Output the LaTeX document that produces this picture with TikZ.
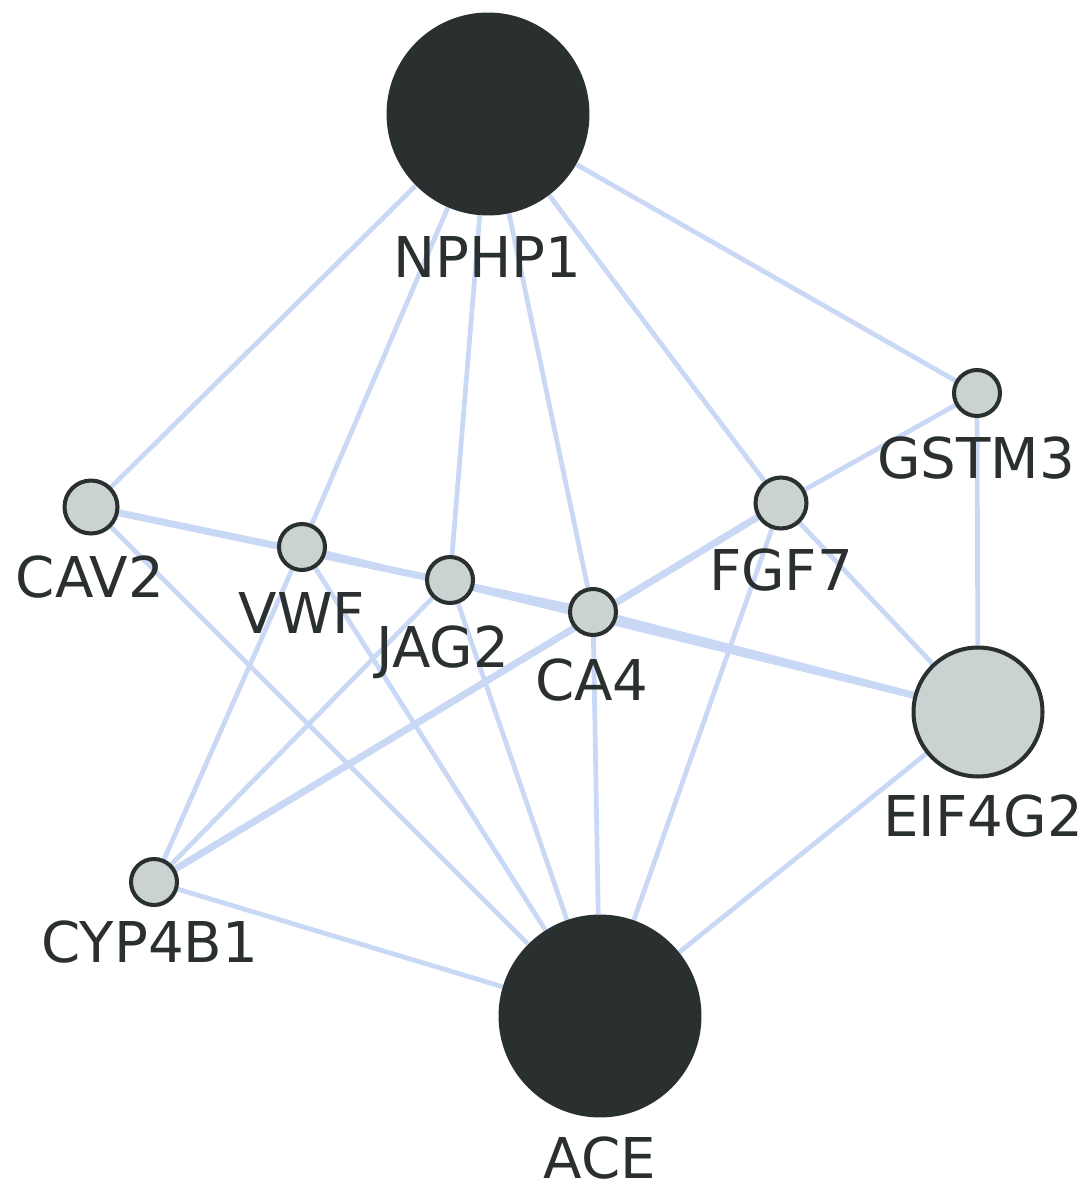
\documentclass[tikz,border=0pt]{standalone}
\usepackage{fontspec}
\setmainfont{DejaVu Sans}
\usepackage{tikz}
\usetikzlibrary{backgrounds}
\definecolor{hubdark}{HTML}{2A2F2F}
\definecolor{genegray}{HTML}{CBD2D2}
\definecolor{linkblue}{HTML}{C8D8F5}
\tikzstyle{hubnode} = [circle, fill=hubdark, draw=none, minimum size=4.06cm, inner sep=0pt]
\tikzstyle{genenode} = [circle, fill=genegray, draw=hubdark, line width=2.3pt, minimum size=0.92cm, inner sep=0pt]
\tikzstyle{genelabel} = [anchor=base, inner sep=0pt, font=\fontsize{32}{36}\selectfont, text=hubdark]
\tikzstyle{link} = [line width=2.7pt, color=linkblue]
\tikzstyle{boldlink} = [line width=4pt, color=linkblue]

\begin{document}
\begin{tikzpicture}[x=0.02cm, y=-0.02cm]
    \useasboundingbox (0,0) rectangle (1087,1193);

    % hubs
    \node (nphp1) [hubnode] at (488,114) {};
    \node (ace) [hubnode] at (600,1016) {};

    % genes
    \node (gstm3) [genenode] at (977,393) {};
    \node (fgf7) [genenode, minimum size=1.02cm] at (781,503) {};
    \node (cav2) [genenode, minimum size=1.06cm] at (91,507) {};
    \node (vwf) [genenode] at (302,547) {};
    \node (jag2) [genenode] at (450,580) {};
    \node (ca4) [genenode] at (593,612) {};
    \node (eif4g2) [genenode, minimum size=2.58cm] at (978,712) {};
    \node (cyp4b1) [genenode] at (154,882) {};

    % labels
    \node (nphp1l) [genelabel] at (487,277) {NPHP1};
    \node (acel) [genelabel] at (600,1178) {ACE};
    \node (gstm3l) [genelabel] at (976,478) {GSTM3};
    \node (fgf7l) [genelabel] at (781,590) {FGF7};
    \node (cav2l) [genelabel] at (90,597) {CAV2};
    \node (vwfl) [genelabel] at (302,633) {VWF};
    \node (jag2l) [genelabel] at (443,667) {JAG2};
    \node (ca4l) [genelabel] at (592,700) {CA4};
    \node (eif4g2l) [genelabel] at (983,836) {EIF4G2};
    \node (cyp4b1l) [genelabel] at (150,962) {CYP4B1};

    % links
    \begin{scope}[on background layer]
        \draw [link] (nphp1) -- (cav2);
        \draw [link] (nphp1) -- (vwf);
        \draw [link] (nphp1) -- (jag2);
        \draw [link] (nphp1) -- (ca4);
        \draw [link] (nphp1) -- (fgf7);
        \draw [link] (nphp1) -- (gstm3);
        \draw [boldlink] (cav2) -- (ca4);
        \draw [link] (vwf) -- (eif4g2);
        \draw [boldlink] (ca4) -- (eif4g2);
        \draw [boldlink] (cyp4b1) -- (fgf7);
        \draw [link] (fgf7) -- (gstm3);
        \draw [link] (fgf7) -- (eif4g2);
        \draw [link] (gstm3) -- (eif4g2);
        \draw [link] (cyp4b1) -- (vwf);
        \draw [link] (cyp4b1) -- (jag2);
        \draw [link] (cav2) -- (ace);
        \draw [link] (vwf) -- (ace);
        \draw [link] (jag2) -- (ace);
        \draw [link] (ca4) -- (ace);
        \draw [link] (fgf7) -- (ace);
        \draw [link] (eif4g2) -- (ace);
        \draw [link] (cyp4b1) -- (ace);
    \end{scope}
\end{tikzpicture}
\end{document}
